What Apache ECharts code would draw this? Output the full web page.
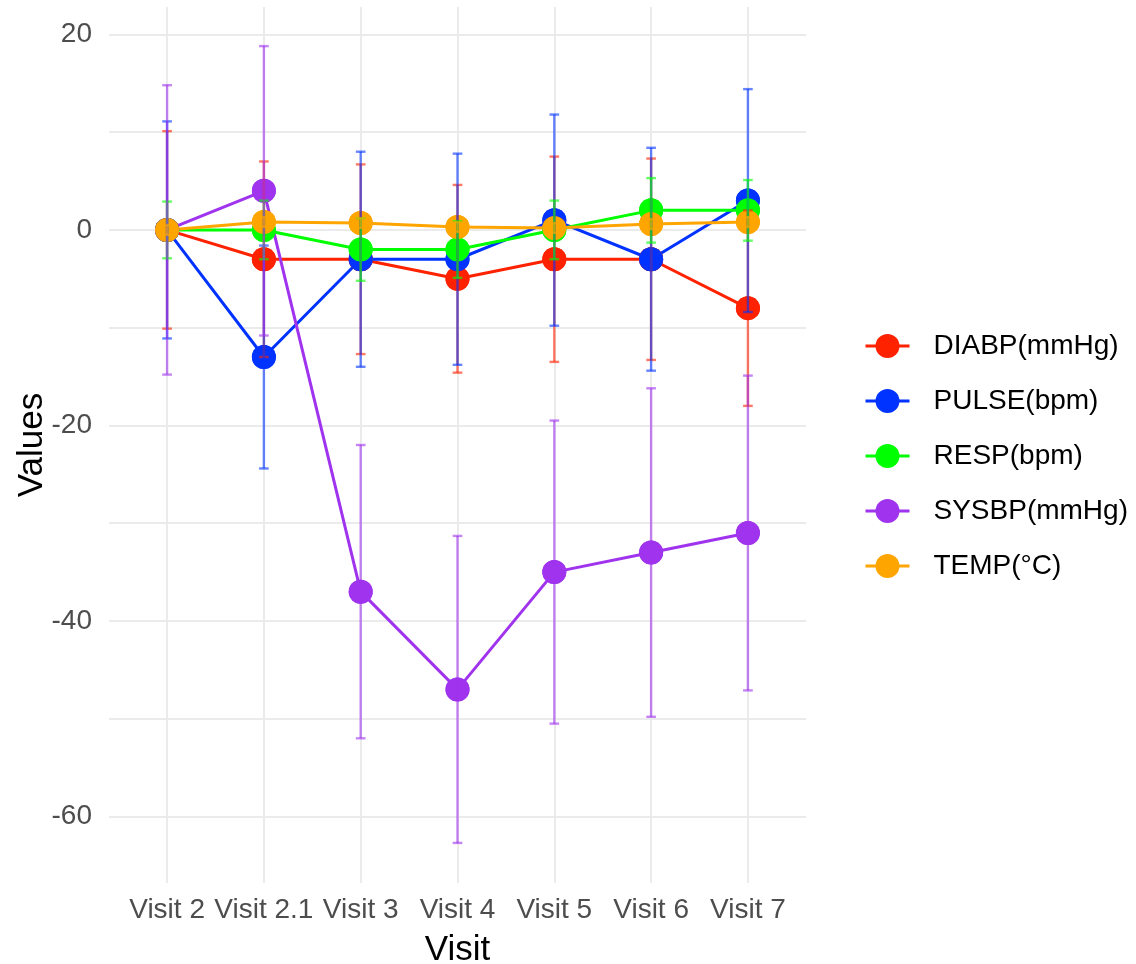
<!DOCTYPE html>
<html>
<head>
<meta charset="utf-8">
<title>Vital signs change from baseline by visit</title>
<script src="https://cdn.jsdelivr.net/npm/echarts@6/dist/echarts.min.js"></script>
<style>
  html, body { margin: 0; padding: 0; background: #ffffff; }
  #chart { width: 1136px; height: 964px; }
</style>
</head>
<body>
<div id="chart"></div>
<script>
// Visits on the x axis
const visits = ['Visit 2', 'Visit 2.1', 'Visit 3', 'Visit 4', 'Visit 5', 'Visit 6', 'Visit 7'];

// Mean change from baseline and standard deviation per parameter
const diabpMean = [0, -3, -3, -5, -3, -3, -8];
const diabpSd   = [10.1, 10.0, 9.7, 9.6, 10.5, 10.3, 10.0];
const pulseMean = [0, -13, -3, -3, 1, -3, 3];
const pulseSd   = [11.1, 11.4, 11.0, 10.8, 10.8, 11.4, 11.4];
const respMean  = [0, 0, -2, -2, 0, 2, 2];
const respSd    = [2.9, 3.0, 3.2, 2.9, 3.0, 3.3, 3.1];
const sysbpMean = [0, 4, -37, -47, -35, -33, -31];
const sysbpSd   = [14.8, 14.8, 15.0, 15.7, 15.5, 16.8, 16.1];
const tempMean  = [0, 0.8, 0.7, 0.3, 0.2, 0.6, 0.8];
const tempSd    = [0.5, 0.5, 0.5, 0.5, 0.5, 0.5, 0.5];

// Parameter names and colours
const paramNames  = ['DIABP(mmHg)', 'PULSE(bpm)', 'RESP(bpm)', 'SYSBP(mmHg)', 'TEMP(°C)'];
const paramColors = ['#FF2200', '#0033FF', '#00FF00', '#A033EE', '#FFA500'];
const paramMeans  = [diabpMean, pulseMean, respMean, sysbpMean, tempMean];
const paramSds    = [diabpSd, pulseSd, respSd, sysbpSd, tempSd];

// Axis ticks
const yTickValues = [-60, -40, -20, 0, 20];
const yGridValues = [-60, -50, -40, -30, -20, -10, 0, 10, 20];
const xTickValues = visits.map((v, i) => i);

const FONT = '"Liberation Sans", Arial, Helvetica, sans-serif';
const CAP_HALF = 0.05; // half width of error bar caps, in category units

const chart = echarts.init(document.getElementById('chart'), null, { renderer: 'canvas' });

const lineSeries = paramNames.map((name, k) => ({
  name: name,
  type: 'line',
  data: paramMeans[k].map((m, i) => [i, m]),
  symbol: 'circle',
  symbolSize: 24,
  showSymbol: true,
  color: paramColors[k],
  lineStyle: { width: 3, color: paramColors[k] },
  itemStyle: { color: paramColors[k] },
  emphasis: { disabled: true },
  z: 2,
  animation: false
}));

// Points drawn again above every line
const pointSeries = paramNames.map((name, k) => ({
  name: name,
  type: 'scatter',
  data: paramMeans[k].map((m, i) => [i, m]),
  symbol: 'circle',
  symbolSize: 24,
  itemStyle: { color: paramColors[k], opacity: 1 },
  emphasis: { disabled: true },
  z: 3,
  animation: false
}));

// Mean ± SD error bars
const errorSeries = paramNames.map((name, k) => ({
  name: name,
  type: 'custom',
  data: paramMeans[k].map((m, i) => [i, m - paramSds[k][i], m + paramSds[k][i]]),
  encode: { x: 0, y: [1, 2] },
  z: 4,
  silent: true,
  animation: false,
  renderItem: function (params, api) {
    const x = api.value(0);
    const lo = api.value(1);
    const hi = api.value(2);
    const top = api.coord([x, hi]);
    const bot = api.coord([x, lo]);
    const left = api.coord([x - CAP_HALF, hi])[0];
    const right = api.coord([x + CAP_HALF, hi])[0];
    const style = { stroke: paramColors[k], lineWidth: 2.4, opacity: 0.6 };
    return {
      type: 'group',
      children: [
        { type: 'line', shape: { x1: top[0], y1: top[1], x2: bot[0], y2: bot[1] }, style: style },
        { type: 'line', shape: { x1: left, y1: top[1], x2: right, y2: top[1] }, style: style },
        { type: 'line', shape: { x1: left, y1: bot[1], x2: right, y2: bot[1] }, style: style }
      ]
    };
  }
}));

const option = {
  backgroundColor: '#ffffff',
  animation: false,
  textStyle: { fontFamily: FONT },
  grid: { left: 109, right: 330, top: 7, bottom: 81, containLabel: false, outerBoundsMode: 'none' },
  legend: {
    data: paramNames,
    orient: 'vertical',
    left: 859,
    top: 327,
    itemWidth: 44,
    itemHeight: 30,
    itemGap: 27,
    selectedMode: false,
    lineStyle: { width: 3 },
    textStyle: { fontFamily: FONT, fontSize: 28, color: '#000000', padding: [0, 0, 0, 19] }
  },
  xAxis: {
    type: 'value',
    min: -0.6,
    max: 6.6,
    name: 'Visit',
    nameLocation: 'middle',
    nameGap: 50,
    nameMoveOverlap: false,
    nameTextStyle: { fontFamily: FONT, fontSize: 35, color: '#000000' },
    axisLine: { show: false },
    axisTick: { show: false, customValues: xTickValues },
    axisLabel: {
      customValues: xTickValues,
      formatter: function (v) { return visits[Math.round(v)]; },
      fontFamily: FONT, fontSize: 28, color: '#4D4D4D', margin: 13
    },
    splitLine: { show: true, customValues: xTickValues, lineStyle: { color: '#EBEBEB', width: 2 } }
  },
  yAxis: {
    type: 'value',
    min: -66.8,
    max: 22.8,
    name: 'Values',
    nameLocation: 'middle',
    nameGap: 59,
    nameMoveOverlap: false,
    nameRotate: 90,
    nameTextStyle: { fontFamily: FONT, fontSize: 35, color: '#000000' },
    axisLine: { show: false },
    axisTick: { show: false, customValues: yGridValues },
    axisLabel: {
      customValues: yTickValues,
      fontFamily: FONT, fontSize: 28, color: '#4D4D4D', margin: 17
    },
    splitLine: { show: true, customValues: yGridValues, lineStyle: { color: '#EBEBEB', width: 2 } }
  },
  series: [].concat(lineSeries, pointSeries, errorSeries)
};

chart.setOption(option);
</script>
</body>
</html>
